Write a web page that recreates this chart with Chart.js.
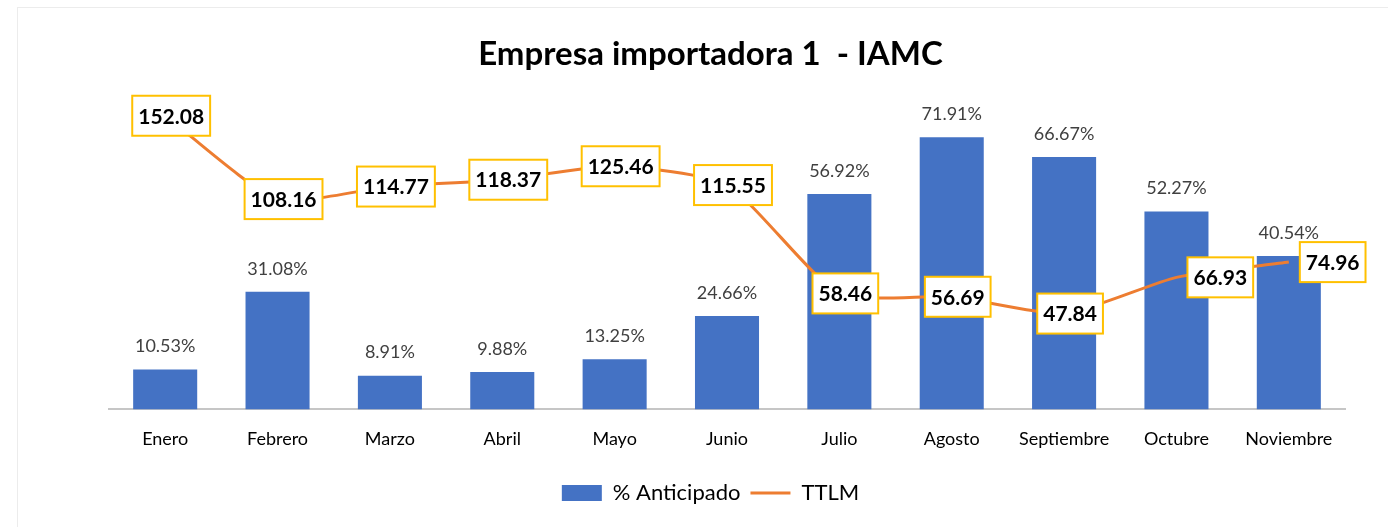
<!DOCTYPE html>
<html>
<head>
<meta charset="utf-8">
<title>Empresa importadora 1 - IAMC</title>
<script src="https://cdn.jsdelivr.net/npm/chart.js@4.4.1/dist/chart.umd.min.js"></script>
<style>
    html, body { margin: 0; padding: 0; background: #fff; width: 1388px; height: 527px; overflow: hidden; }
    #frame {
        position: absolute; left: 17px; top: 7px; width: 1386px; height: 530px;
        border-left: 1px solid #ececec; border-top: 1px solid #ececec; box-sizing: border-box;
    }
    #frame canvas { display: block; }
</style>
</head>
<body>
<div id="frame"><canvas id="chart"></canvas></div>
<script>
// ----------------------------------------------------------------------------
// Data
// ----------------------------------------------------------------------------
var meses = ['Enero', 'Febrero', 'Marzo', 'Abril', 'Mayo', 'Junio', 'Julio',
             'Agosto', 'Septiembre', 'Octubre', 'Noviembre'];
var anticipado = [10.53, 31.08, 8.91, 9.88, 13.25, 24.66, 56.92, 71.91, 66.67, 52.27, 40.54];
var ttlm = [152.08, 108.16, 114.77, 118.37, 125.46, 115.55, 58.46, 56.69, 47.84, 66.93, 74.96];

var FONT = 'Lato, "Open Sans", sans-serif';
var BLUE = '#4472C4';
var ORANGE = '#ED7D31';
var GOLD = '#FFC000';

// labels of the last points sit to the right of the point (as in Excel)
var rightLabelFrom = 9;

// Draws the value labels: % above bars, boxed TTLM values on the line
var valueLabels = {
    id: 'valueLabels',
    afterDatasetsDraw: function(chart) {
        var ctx = chart.ctx;
        ctx.save();

        // bar labels
        ctx.font = '18px ' + FONT;
        ctx.fillStyle = '#404040';
        ctx.textAlign = 'center';
        ctx.textBaseline = 'middle';
        chart.getDatasetMeta(0).data.forEach(function(bar, i) {
            ctx.fillText(anticipado[i].toFixed(2) + '%', bar.x, bar.y - 23);
        });

        // line labels in boxes
        ctx.font = 'bold 21px ' + FONT;
        chart.getDatasetMeta(1).data.forEach(function(pt, i) {
            var txt = ttlm[i].toFixed(2);
            var w = ctx.measureText(txt).width + 12;
            var h = 40;
            var cx = i >= rightLabelFrom ? pt.x + 11 + w / 2 : pt.x + 6;
            ctx.fillStyle = '#fff';
            ctx.fillRect(cx - w / 2, pt.y - h / 2, w, h);
            ctx.strokeStyle = GOLD;
            ctx.lineWidth = 2;
            ctx.strokeRect(cx - w / 2, pt.y - h / 2, w, h);
            ctx.fillStyle = '#000';
            ctx.fillText(txt, cx, pt.y + 1);
        });

        ctx.restore();
    }
};

// hidden side axes only reserve room so the plot sits where it does in Excel
function hiddenAxis(width) {
    return {
        grid: { display: false },
        border: { display: false },
        ticks: { display: false },
        afterFit: function(axis) { axis.width = width; }
    };
}

var canvas = document.getElementById('chart');
canvas.width = 1385;
canvas.height = 529;

var yLeft = hiddenAxis(51);
yLeft.min = 0;
yLeft.max = 80;
var yRight = hiddenAxis(18);
yRight.position = 'right';
yRight.min = -2.66;
yRight.max = 156.9;

new Chart(canvas, {
    type: 'bar',
    data: {
        labels: meses,
        datasets: [
            {
                type: 'bar',
                label: '% Anticipado',
                data: anticipado,
                backgroundColor: BLUE,
                borderWidth: 0,
                barPercentage: 0.57,
                categoryPercentage: 1,
                yAxisID: 'y',
                order: 1
            },
            {
                type: 'line',
                label: 'TTLM',
                data: ttlm,
                borderColor: ORANGE,
                backgroundColor: ORANGE,
                borderWidth: 3,
                pointRadius: 0,
                tension: 0.2,
                yAxisID: 'y2',
                order: 0
            }
        ]
    },
    options: {
        responsive: false,
        animation: false,
        layout: { padding: { top: 27, left: 40, right: 40, bottom: 23 } },
        plugins: {
            title: {
                display: true,
                text: 'Empresa importadora 1  - IAMC',
                color: '#000',
                font: { family: FONT, size: 33, weight: 'bold' },
                padding: { top: 0, bottom: 32 }
            },
            legend: {
                position: 'bottom',
                labels: {
                    color: '#000',
                    font: { family: FONT, size: 22 },
                    usePointStyle: true,
                    pointStyleWidth: 40,
                    boxHeight: 16,
                    padding: 10,
                    sort: function(a, b) { return a.datasetIndex - b.datasetIndex; },
                    generateLabels: function(chart) {
                        var items = Chart.defaults.plugins.legend.labels.generateLabels(chart);
                        items.forEach(function(it) {
                            it.pointStyle = it.datasetIndex === 0 ? 'rect' : 'line';
                        });
                        return items;
                    }
                }
            },
            tooltip: { enabled: false }
        },
        scales: {
            x: {
                grid: { display: false, drawTicks: false },
                border: { display: true, color: '#c6c6c6', width: 2 },
                ticks: { color: '#000', font: { family: FONT, size: 18 }, padding: 19 },
                afterFit: function(axis) { axis.height += 3; }
            },
            y: yLeft,
            y2: yRight
        }
    },
    plugins: [valueLabels]
});
</script>
</body>
</html>
